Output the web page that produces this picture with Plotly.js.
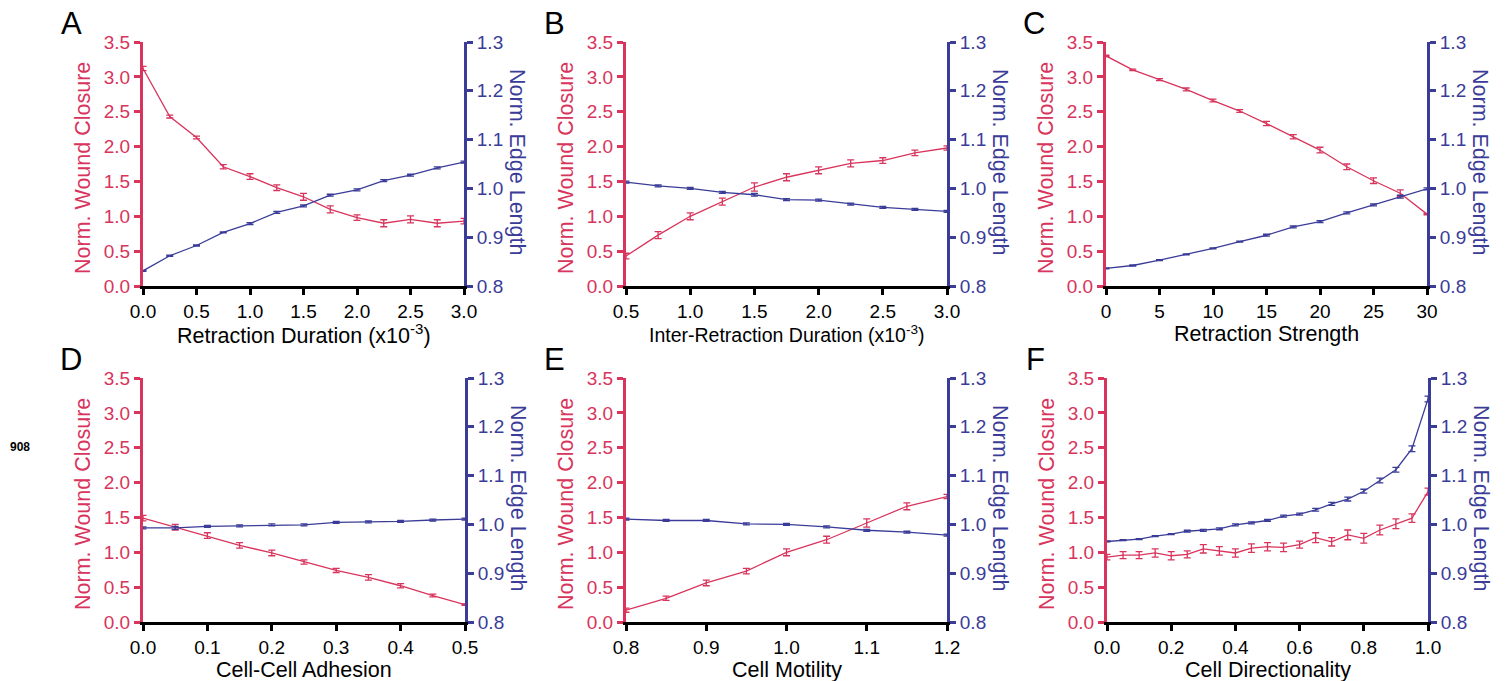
<!DOCTYPE html>
<html>
<head>
<meta charset="utf-8">
<script src="https://cdn.plot.ly/plotly-3.0.1.min.js"></script>
<style>
html,body{margin:0;padding:0;background:#fff;}
#chart{width:1511px;height:681px;}
</style>
</head>
<body>
<div id="chart"></div>
<script>
// ---------- DATA ----------
const panelLetters = ["A","B","C","D","E","F"];
const xTitles = ["Retraction Duration (x10<sup>-3</sup>)", "Inter-Retraction Duration (x10<sup>-3</sup>)", "Retraction Strength", "Cell-Cell Adhesion", "Cell Motility", "Cell Directionality"];
const leftTitle = "Norm. Wound Closure";
const rightTitle = "Norm. Edge Length";

const A_x = [0, 0.25, 0.5, 0.75, 1.0, 1.25, 1.5, 1.75, 2.0, 2.25, 2.5, 2.75, 3.0];
const A_wound = [3.12, 2.43, 2.13, 1.71, 1.57, 1.41, 1.28, 1.10, 0.98, 0.90, 0.955, 0.90, 0.93];
const A_wound_err = [0.03, 0.02, 0.02, 0.03, 0.04, 0.04, 0.05, 0.05, 0.04, 0.05, 0.05, 0.05, 0.04];
const A_edge = [0.831, 0.862, 0.883, 0.910, 0.928, 0.951, 0.964, 0.986, 0.997, 1.016, 1.027, 1.042, 1.054];
const A_edge_err = [0.001, 0.001, 0.001, 0.001, 0.002, 0.002, 0.002, 0.002, 0.002, 0.002, 0.002, 0.002, 0.002];

const B_x = [0.5, 0.75, 1.0, 1.25, 1.5, 1.75, 2.0, 2.25, 2.5, 2.75, 3.0];
const B_wound = [0.43, 0.73, 1.00, 1.21, 1.42, 1.56, 1.66, 1.76, 1.80, 1.91, 1.98];
const B_wound_err = [0.04, 0.05, 0.05, 0.05, 0.06, 0.05, 0.05, 0.05, 0.04, 0.04, 0.03];
const B_edge = [1.013, 1.005, 1.000, 0.992, 0.987, 0.977, 0.976, 0.968, 0.961, 0.957, 0.953];
const B_edge_err = [0.002, 0.002, 0.002, 0.002, 0.003, 0.002, 0.002, 0.002, 0.002, 0.002, 0.002];

const C_x = [0, 2.5, 5, 7.5, 10, 12.5, 15, 17.5, 20, 22.5, 25, 27.5, 30];
const C_wound = [3.30, 3.10, 2.96, 2.82, 2.66, 2.51, 2.33, 2.14, 1.95, 1.71, 1.51, 1.33, 1.03];
const C_wound_err = [0.01, 0.01, 0.015, 0.02, 0.02, 0.02, 0.03, 0.03, 0.04, 0.04, 0.04, 0.05, 0.01];
const C_edge = [0.836, 0.842, 0.853, 0.865, 0.877, 0.891, 0.904, 0.921, 0.932, 0.950, 0.966, 0.983, 0.999];
const C_edge_err = [0.001, 0.001, 0.001, 0.001, 0.001, 0.001, 0.002, 0.002, 0.002, 0.002, 0.002, 0.003, 0.002];

const D_x = [0, 0.05, 0.1, 0.15, 0.2, 0.25, 0.3, 0.35, 0.4, 0.45, 0.5];
const D_wound = [1.49, 1.36, 1.24, 1.10, 0.99, 0.86, 0.74, 0.64, 0.52, 0.38, 0.25];
const D_wound_err = [0.04, 0.04, 0.04, 0.04, 0.04, 0.03, 0.03, 0.04, 0.03, 0.02, 0.01];
const D_edge = [0.993, 0.993, 0.996, 0.997, 0.999, 0.999, 1.004, 1.005, 1.006, 1.009, 1.011];
const D_edge_err = [0.002, 0.003, 0.002, 0.002, 0.002, 0.002, 0.002, 0.002, 0.002, 0.002, 0.002];

const E_x = [0.8, 0.85, 0.9, 0.95, 1.0, 1.05, 1.1, 1.15, 1.2];
const E_wound = [0.17, 0.34, 0.56, 0.73, 1.00, 1.18, 1.42, 1.66, 1.80];
const E_wound_err = [0.03, 0.03, 0.04, 0.04, 0.05, 0.05, 0.06, 0.05, 0.03];
const E_edge = [1.011, 1.008, 1.008, 1.001, 1.000, 0.995, 0.988, 0.984, 0.978];
const E_edge_err = [0.002, 0.002, 0.002, 0.002, 0.002, 0.002, 0.002, 0.002, 0.002];

const F_x = [0, 0.05, 0.1, 0.15, 0.2, 0.25, 0.3, 0.35, 0.4, 0.45, 0.5, 0.55, 0.6, 0.65, 0.7, 0.75, 0.8, 0.85, 0.9, 0.95, 1.0];
const F_wound = [0.93, 0.96, 0.96, 0.99, 0.95, 0.97, 1.05, 1.02, 0.99, 1.06, 1.08, 1.07, 1.11, 1.21, 1.15, 1.25, 1.20, 1.32, 1.41, 1.49, 1.87];
const F_wound_err = [0.04, 0.05, 0.05, 0.06, 0.06, 0.05, 0.06, 0.06, 0.06, 0.06, 0.06, 0.06, 0.05, 0.07, 0.06, 0.07, 0.07, 0.07, 0.07, 0.06, 0.05];
const F_edge = [0.965, 0.968, 0.970, 0.976, 0.980, 0.986, 0.988, 0.991, 0.999, 1.003, 1.008, 1.017, 1.021, 1.030, 1.042, 1.052, 1.068, 1.090, 1.112, 1.155, 1.257];
const F_edge_err = [0.001, 0.001, 0.001, 0.001, 0.001, 0.002, 0.002, 0.002, 0.002, 0.002, 0.002, 0.002, 0.002, 0.003, 0.003, 0.004, 0.004, 0.005, 0.005, 0.006, 0.006];

const X_ranges = [[0, 3], [0.5, 3], [0, 30], [0, 0.5], [0.8, 1.2], [0, 1]];
const X_dticks = [0.5, 0.5, 5, 0.1, 0.1, 0.2];
const X_formats = [".1f", ".1f", "d", ".1f", ".1f", ".1f"];

const panels = [
  [A_x, A_wound, A_wound_err, A_edge, A_edge_err],
  [B_x, B_wound, B_wound_err, B_edge, B_edge_err],
  [C_x, C_wound, C_wound_err, C_edge, C_edge_err],
  [D_x, D_wound, D_wound_err, D_edge, D_edge_err],
  [E_x, E_wound, E_wound_err, E_edge, E_edge_err],
  [F_x, F_wound, F_wound_err, F_edge, F_edge_err]
];

// ---------- STYLE / LAYOUT ----------
const W = 1511, H = 681;
const RED = "rgb(216,52,92)";
const BLUE = "rgb(58,60,152)";
const FONT = "Arial, 'Liberation Sans', sans-serif";
// pixel frames [left, right, top, bottom]
const frames = [
  [143, 464, 42, 286], [626, 947, 42, 286], [1106, 1427, 42, 286],
  [143, 465, 378, 622], [626, 947, 378, 622], [1107, 1428, 378, 622]
];
const px = v => v / W;
const py = v => 1 - v / H;

const traces = [];
const layout = {
  width: W, height: H,
  margin: {l: 0, r: 0, t: 0, b: 0},
  paper_bgcolor: "#fff", plot_bgcolor: "rgba(0,0,0,0)",
  showlegend: false,
  font: {family: FONT, size: 19, color: "#000"},
  annotations: []
};

panels.forEach((p, i) => {
  const n = i + 1;
  const [xs, wound, woundErr, edge, edgeErr] = p;
  const f = frames[i];
  const xa = "x" + n, yl = "y" + n, yr = "y" + (n + 6);
  const xKey = "xaxis" + n, ylKey = "yaxis" + n, yrKey = "yaxis" + (n + 6);

  traces.push({
    x: xs, y: edge, xaxis: xa, yaxis: yr, type: "scatter", mode: "lines",
    line: {color: BLUE, width: 1.3},
    error_y: {type: "data", array: edgeErr, visible: true, color: BLUE, thickness: 1.3, width: 3.5}
  });
  traces.push({
    x: xs, y: wound, xaxis: xa, yaxis: yl, type: "scatter", mode: "lines",
    line: {color: RED, width: 1.3},
    error_y: {type: "data", array: woundErr, visible: true, color: RED, thickness: 1.3, width: 3.5}
  });

  layout[xKey] = {
    domain: [px(f[0]), px(f[1])], anchor: yl, range: X_ranges[i],
    showgrid: false, zeroline: false, showline: true, linecolor: "#000", linewidth: 3,
    ticks: "outside", ticklen: 6, tickwidth: 3, tickcolor: "#000",
    dtick: X_dticks[i], tick0: X_ranges[i][0], tickformat: X_formats[i],
    tickfont: {family: FONT, size: 19, color: "#000"}
  };
  layout[ylKey] = {
    domain: [py(f[3]), py(f[2])], anchor: xa, range: [0, 3.5],
    showgrid: false, zeroline: false, showline: true, linecolor: RED, linewidth: 3,
    ticks: "outside", ticklen: 6, tickwidth: 3, tickcolor: RED,
    dtick: 0.5, tick0: 0, tickformat: ".1f",
    tickfont: {family: FONT, size: 19, color: RED}
  };
  layout[yrKey] = {
    overlaying: yl, side: "right", anchor: xa, range: [0.8, 1.3],
    showgrid: false, zeroline: false, showline: true, linecolor: BLUE, linewidth: 3,
    ticks: "outside", ticklen: 6, tickwidth: 3, tickcolor: BLUE,
    dtick: 0.1, tick0: 0.8, tickformat: ".1f",
    tickfont: {family: FONT, size: 19, color: BLUE}
  };

  const cx = (f[0] + f[1]) / 2;
  const cy = (f[2] + f[3]) / 2;
  // x title
  layout.annotations.push({
    xref: "paper", yref: "paper", x: px(cx), y: py(f[3] + 48),
    xanchor: "center", yanchor: "middle", showarrow: false,
    text: xTitles[i], font: {family: FONT, size: i === 1 ? 19.5 : 21.5, color: "#000"}
  });
  // left y title
  layout.annotations.push({
    xref: "paper", yref: "paper", x: px(f[0] - 60), y: py(cy + 4),
    xanchor: "center", yanchor: "middle", showarrow: false, textangle: -90,
    text: leftTitle, font: {family: FONT, size: 21.5, color: RED}
  });
  // right y title
  layout.annotations.push({
    xref: "paper", yref: "paper", x: px(f[1] + 53), y: py(cy - 2),
    xanchor: "center", yanchor: "middle", showarrow: false, textangle: 90,
    text: rightTitle, font: {family: FONT, size: 21.5, color: BLUE}
  });
  // panel letter
  layout.annotations.push({
    xref: "paper", yref: "paper", x: px(f[0] - 72), y: py(f[2] - 19),
    xanchor: "center", yanchor: "middle", showarrow: false,
    text: panelLetters[i], font: {family: FONT, size: 31, color: "#000"}
  });
});

layout.annotations.push({
  xref: "paper", yref: "paper", x: px(20), y: py(447),
  xanchor: "center", yanchor: "middle", showarrow: false,
  text: "<b>908</b>", font: {family: FONT, size: 12, color: "#000"}
});

Plotly.newPlot("chart", traces, layout, {displayModeBar: false, staticPlot: true});
</script>
</body>
</html>
